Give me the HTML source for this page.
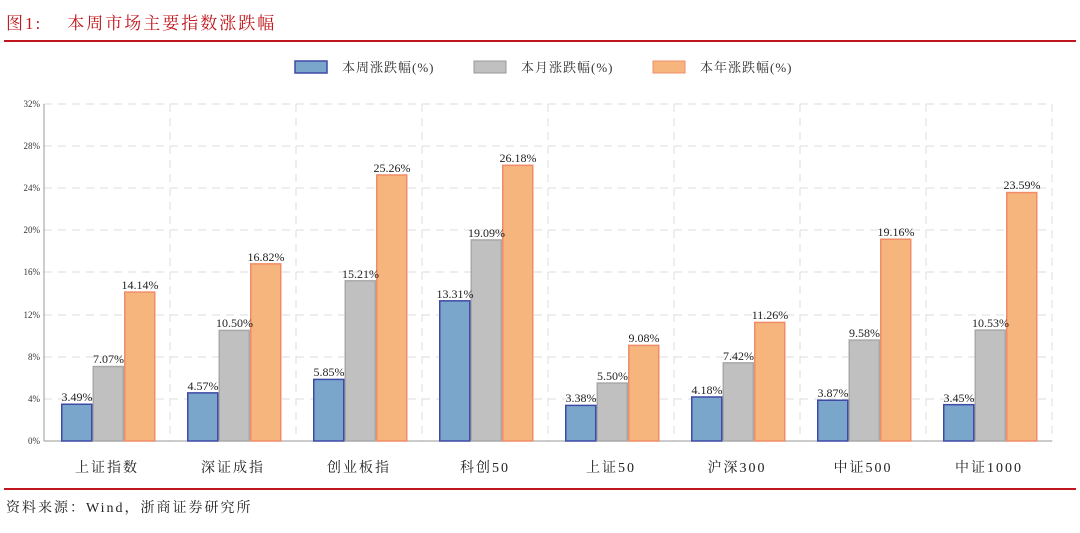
<!DOCTYPE html>
<html><head><meta charset="utf-8"><style>
body{margin:0;background:#fff;width:1080px;height:533px;overflow:hidden}
svg{display:block}
</style></head><body>
<svg width="1080" height="533" xmlns="http://www.w3.org/2000/svg" font-family="Liberation Serif, Noto Serif CJK SC, serif">
<text x="6" y="29" font-size="17" fill="#c0161c" letter-spacing="2" xml:space="preserve">图1:    本周市场主要指数涨跌幅</text>
<line x1="4" y1="41" x2="1076" y2="41" stroke="#c0161c" stroke-width="2"/>
<g font-size="13" fill="#333">
<rect x="295" y="61" width="32" height="12" fill="#7aa6cb" stroke="#3e4aa6" stroke-width="1.5"/>
<text x="342" y="72" letter-spacing="1">本周涨跌幅(%)</text>
<rect x="474" y="61" width="32" height="12" fill="#c0c0c0" stroke="#999" stroke-width="1"/>
<text x="521" y="72" letter-spacing="1">本月涨跌幅(%)</text>
<rect x="653" y="61" width="32" height="12" fill="#f5b57d" stroke="#f08d68" stroke-width="1"/>
<text x="700" y="72" letter-spacing="1">本年涨跌幅(%)</text>
</g>
<g stroke="#ddd" stroke-dasharray="8,6" stroke-width="1">
<line x1="44" y1="104" x2="1052" y2="104"/>
<line x1="44" y1="146" x2="1052" y2="146"/>
<line x1="44" y1="188" x2="1052" y2="188"/>
<line x1="44" y1="230" x2="1052" y2="230"/>
<line x1="44" y1="272" x2="1052" y2="272"/>
<line x1="44" y1="315" x2="1052" y2="315"/>
<line x1="44" y1="357" x2="1052" y2="357"/>
<line x1="44" y1="399" x2="1052" y2="399"/>
<line x1="170" y1="104" x2="170" y2="441"/>
<line x1="296" y1="104" x2="296" y2="441"/>
<line x1="422" y1="104" x2="422" y2="441"/>
<line x1="548" y1="104" x2="548" y2="441"/>
<line x1="674" y1="104" x2="674" y2="441"/>
<line x1="800" y1="104" x2="800" y2="441"/>
<line x1="926" y1="104" x2="926" y2="441"/>
<line x1="1052" y1="104" x2="1052" y2="441"/>
</g>
<line x1="44" y1="104" x2="44" y2="441" stroke="#999"/>
<line x1="44" y1="441" x2="1052" y2="441" stroke="#999"/>
<g font-size="9" fill="#333" text-anchor="end">
<text x="40" y="107">32%</text><text x="40" y="149">28%</text><text x="40" y="191">24%</text>
<text x="40" y="233">20%</text><text x="40" y="275">16%</text><text x="40" y="318">12%</text>
<text x="40" y="360">8%</text><text x="40" y="402">4%</text><text x="40" y="444">0%</text>
</g>
<g stroke-width="1.5">
<g fill="#7aa6cb" stroke="#3e4aa6">
<rect x="61.75" y="404.25" width="30" height="36.75"/>
<rect x="187.75" y="392.87" width="30" height="48.13"/>
<rect x="313.75" y="379.39" width="30" height="61.61"/>
<rect x="439.75" y="300.83" width="30" height="140.17"/>
<rect x="565.75" y="405.4" width="30" height="35.6"/>
<rect x="691.75" y="396.98" width="30" height="44.02"/>
<rect x="817.75" y="400.24" width="30" height="40.76"/>
<rect x="943.75" y="404.67" width="30" height="36.33"/>
</g>
<g fill="#c0c0c0" stroke="#a8a8a8">
<rect x="93.25" y="366.54" width="30" height="74.46"/>
<rect x="219.25" y="330.42" width="30" height="110.58"/>
<rect x="345.25" y="280.82" width="30" height="160.18"/>
<rect x="471.25" y="239.96" width="30" height="201.04"/>
<rect x="597.25" y="383.08" width="30" height="57.92"/>
<rect x="723.25" y="362.86" width="30" height="78.14"/>
<rect x="849.25" y="340.11" width="30" height="100.89"/>
<rect x="975.25" y="330.1" width="30" height="110.9"/>
</g>
<g fill="#f5b57d" stroke="#f08d68">
<rect x="124.75" y="292.09" width="30" height="148.91"/>
<rect x="250.75" y="263.86" width="30" height="177.14"/>
<rect x="376.75" y="174.98" width="30" height="266.02"/>
<rect x="502.75" y="165.29" width="30" height="275.71"/>
<rect x="628.75" y="345.38" width="30" height="95.62"/>
<rect x="754.75" y="322.42" width="30" height="118.58"/>
<rect x="880.75" y="239.22" width="30" height="201.78"/>
<rect x="1006.75" y="192.57" width="30" height="248.43"/>
</g>
</g>
<g font-size="12" fill="#222" text-anchor="middle">
<text x="77" y="401">3.49%</text><text x="108.5" y="363">7.07%</text><text x="140" y="289">14.14%</text>
<text x="203" y="390">4.57%</text><text x="234.5" y="327">10.50%</text><text x="266" y="261">16.82%</text>
<text x="329" y="376">5.85%</text><text x="360.5" y="278">15.21%</text><text x="392" y="172">25.26%</text>
<text x="455" y="298">13.31%</text><text x="486.5" y="237">19.09%</text><text x="518" y="162">26.18%</text>
<text x="581" y="402">3.38%</text><text x="612.5" y="380">5.50%</text><text x="644" y="342">9.08%</text>
<text x="707" y="394">4.18%</text><text x="738.5" y="360">7.42%</text><text x="770" y="319">11.26%</text>
<text x="833" y="397">3.87%</text><text x="864.5" y="337">9.58%</text><text x="896" y="236">19.16%</text>
<text x="959" y="402">3.45%</text><text x="990.5" y="327">10.53%</text><text x="1022" y="189">23.59%</text>
</g>
<g font-size="14" fill="#222" text-anchor="middle" letter-spacing="2">
<text x="107" y="472">上证指数</text><text x="233" y="472">深证成指</text><text x="359" y="472">创业板指</text>
<text x="485" y="472">科创50</text><text x="611" y="472">上证50</text><text x="737" y="472">沪深300</text>
<text x="863" y="472">中证500</text><text x="989" y="472">中证1000</text>
</g>
<line x1="4" y1="489" x2="1076" y2="489" stroke="#c0161c" stroke-width="2"/>
<text x="6" y="512" font-size="14" fill="#222" letter-spacing="2">资料来源：Wind，浙商证券研究所</text>
</svg>
</body></html>
